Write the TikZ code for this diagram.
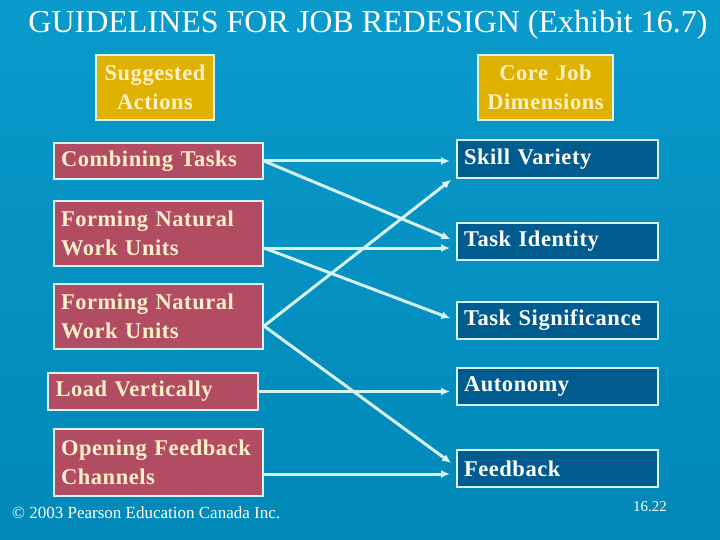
\documentclass[tikz,border=0pt]{standalone}
\usepackage{fontspec}
\setmainfont{Liberation Serif}
\newfontfamily\boxfont{Liberation Serif}[LetterSpace=2.5]
\usetikzlibrary{arrows.meta}

\definecolor{slidetop}{RGB}{10,154,204}
\definecolor{slidebot}{RGB}{0,136,184}
\definecolor{actred}{RGB}{178,76,99}
\definecolor{headgold}{RGB}{224,178,0}
\definecolor{dimblue}{RGB}{0,92,142}
\definecolor{edgecyan}{RGB}{214,244,244}
\definecolor{cream}{RGB}{255,240,200}

\begin{document}
\begin{tikzpicture}[x=1pt, y=-1pt, >={Latex[length=9pt,width=8pt]}]
\tikzstyle{box}=[draw=edgecyan, line width=2pt, anchor=north west, inner xsep=7pt, inner ysep=0pt, align=left, font=\boxfont\bfseries\fontsize{22.5}{28.5}\selectfont]
\tikzstyle{actbox}=[box, fill=actred, text=cream, minimum width=209pt, text width=195pt]
\tikzstyle{dimbox}=[box, fill=dimblue, text=white, minimum width=201pt, text width=187pt]
\tikzstyle{headbox}=[box, fill=headgold, text=cream, align=center, inner xsep=0pt]
\tikzstyle{conn}=[->, draw=edgecyan, line width=3pt, shorten >=6pt]
\shade[top color=slidetop, bottom color=slidebot] (0,0) rectangle (720,540);
\useasboundingbox (0,0) rectangle (720,540);
\node[anchor=base, text=white, font=\fontsize{32}{36}\selectfont] (title) at (368,33) {GUIDELINES FOR JOB REDESIGN (Exhibit 16.7)};
% column headers
\node[headbox, minimum width=118pt, minimum height=65pt, text width=118pt] (hact) at (95,54) {Suggested\\Actions};
\node[headbox, minimum width=135pt, minimum height=65pt, text width=135pt] (hdim) at (477,54) {Core Job\\Dimensions};
% actions
\node[actbox, minimum height=36pt] (act1) at (53,142) {Combining Tasks};
\node[actbox, minimum height=65pt] (act2) at (53,200) {Forming Natural\\Work Units};
\node[actbox, minimum height=65pt] (act3) at (53,283) {Forming Natural\\Work Units};
\node[actbox, minimum height=37pt, minimum width=210pt] (act4) at (47,372) {Load Vertically};
\node[actbox, minimum height=67pt] (act5) at (53,428) {Opening Feedback\\Channels};
% dimensions
\node[dimbox, minimum height=38pt] (dim1) at (456,139) {Skill Variety};
\node[dimbox, minimum height=37pt] (dim2) at (456,222) {Task Identity};
\node[dimbox, minimum height=37pt] (dim3) at (456,301) {Task Significance};
\node[dimbox, minimum height=37pt] (dim4) at (456,367) {Autonomy};
\node[dimbox, minimum height=37pt] (dim5) at (456,449) {Feedback};
% links
\draw[conn] (act1.east) -- (act1.east -| dim1.west);
\draw[conn] (act1.east) -- (dim2.west);
\draw[conn] ([yshift=-14.5pt]act2.east) -- ([yshift=-14.5pt]act2.east -| dim2.west);
\draw[conn] ([yshift=-14.5pt]act2.east) -- (dim3.west);
\draw[conn] ([yshift=-9.5pt]act3.east) -- ([yshift=-17pt]dim1.west);
\draw[conn] ([yshift=-9.5pt]act3.east) -- ([yshift=2pt]dim5.west);
\draw[conn] (act4.east) -- (act4.east -| dim4.west);
\draw[conn] ([yshift=-11.5pt]act5.east) -- ([yshift=-11.5pt]act5.east -| dim5.west);
% footer
\node[anchor=base west, inner sep=0pt, text=white, font=\fontsize{17}{20}\selectfont] (copy) at (12,518) {\textcopyright{} 2003 Pearson Education Canada Inc.};
\node[anchor=base west, inner sep=0pt, text=white, font=\fontsize{15}{18}\selectfont] (page) at (633,511) {16.22};
\end{tikzpicture}
\end{document}
